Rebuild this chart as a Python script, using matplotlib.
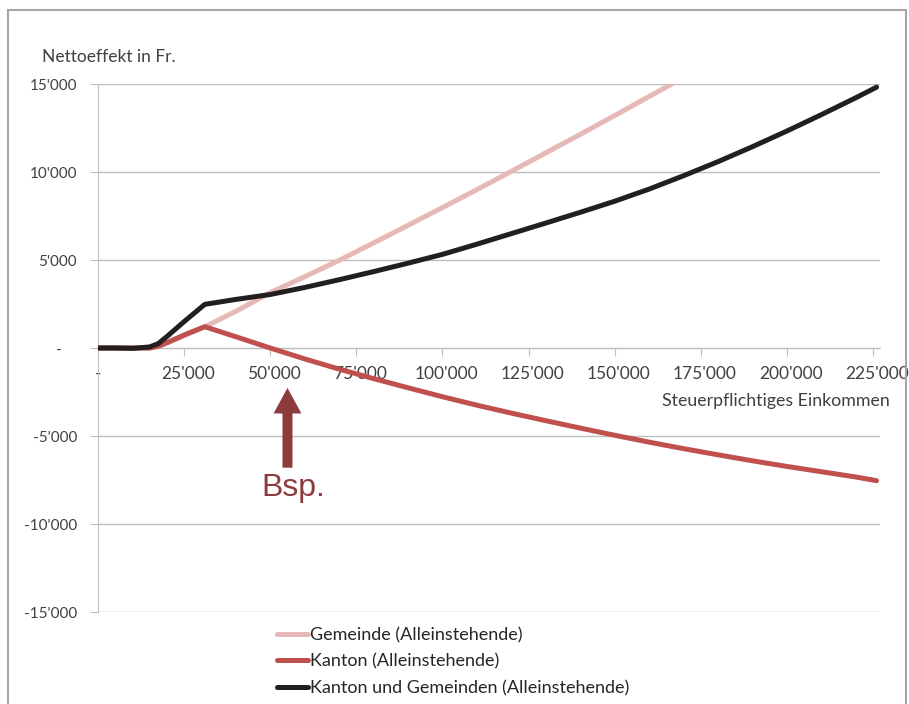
import matplotlib
matplotlib.use("Agg")
import matplotlib.pyplot as plt
from matplotlib.patches import Rectangle
from matplotlib.ticker import FuncFormatter, MultipleLocator
from matplotlib.transforms import ScaledTranslation

# Steuerpflichtiges Einkommen (Fr.) and Nettoeffekt (Fr.) per level
income = [0, 5000, 10000, 15000, 17500, 20000, 25000, 31000, 40000,
          50000, 60000, 70000, 80000, 90000, 100000, 110000, 120000,
          130000, 140000, 150000, 160000, 170000, 180000, 190000, 200000,
          210000, 220000, 226000]

gemeinde = [0, 0, 0, 0, 100, 280, 700, 1210, 2080,
            3150, 4050, 4980, 5970, 6970, 7980, 9000, 10040,
            11090, 12140, 13210, 14290, 15380, 16480, 17600, 18740,
            19900, 21080, 21800]

kanton = [0, 0, 0, 0, 100, 300, 740, 1210, 640,
          0, -620, -1200, -1740, -2260, -2770, -3250, -3700,
          -4130, -4550, -4960, -5350, -5720, -6070, -6410, -6730,
          -7030, -7330, -7540]

total = [0, 0, -20, 60, 250, 650, 1500, 2480, 2760,
         3040, 3440, 3880, 4340, 4820, 5320, 5900, 6500,
         7100, 7710, 8340, 9030, 9790, 10590, 11440, 12330,
         13260, 14220, 14820]

labels = ["Gemeinde (Alleinstehende)",
          "Kanton (Alleinstehende)",
          "Kanton und Gemeinden (Alleinstehende)"]
colors = ["#E6B9B8", "#C0504D", "#231F20"]

example_income = 55000
arrow_tip, arrow_base = -2270, -6800

FONT = "Lato"
TEXT = "#404040"
GRID = "#BFBFBF"


def swiss_x(v, _pos=None):
    if v == 0:
        return "-"
    return f"{int(v):,}".replace(",", "'")


def swiss_y(v, _pos=None):
    if v == 0:
        return "-    "
    return f"{int(v):,}".replace(",", "'")


fig = plt.figure(figsize=(9.09, 7.04), dpi=100)
ax = fig.add_axes([98 / 909, 92 / 704, 782 / 909, 528 / 704])

for ys, lab, col in zip([gemeinde, kanton, total], labels, colors):
    ax.plot(income, ys, color=col, lw=3.6, label=lab,
            solid_capstyle="round", solid_joinstyle="round", zorder=3)

ax.set_xlim(0, 227000)
ax.set_ylim(-15000, 15000)

ax.yaxis.set_major_locator(MultipleLocator(5000))
ax.set_xticks(range(0, 225001, 25000))
ax.yaxis.set_major_formatter(FuncFormatter(swiss_y))
ax.xaxis.set_major_formatter(FuncFormatter(swiss_x))

ax.grid(axis="y", color=GRID, lw=1.0, zorder=0)
for s in ("top", "right"):
    ax.spines[s].set_visible(False)
ax.spines["left"].set_color(GRID)
ax.spines["bottom"].set_color(GRID)
ax.spines["bottom"].set_position(("data", 0))

ax.tick_params(axis="y", direction="out", length=6, color=GRID, pad=9,
               labelsize=11, labelcolor=TEXT)
ax.tick_params(axis="x", direction="out", length=6, color=GRID, pad=7,
               labelsize=12.5, labelcolor=TEXT)
shift = ScaledTranslation(4 / 100, 0, fig.dpi_scale_trans)
for i, t in enumerate(ax.get_xticklabels()):
    t.set_fontfamily(FONT)
    if i > 0:
        t.set_transform(t.get_transform() + shift)
for t in ax.get_yticklabels():
    t.set_fontfamily(FONT)

# example marker
span = arrow_base - arrow_tip
ax.arrow(example_income, arrow_base, 0, -span, width=2900, head_width=8100,
         head_length=1450, length_includes_head=True, color="#8E3B3E",
         lw=0, zorder=4)
ax.text(example_income + 1800, -7950, "Bsp.", ha="center", va="center",
        fontsize=23, color="#8E3B3E", family="Liberation Sans")

fig.text(42 / 909, 1 - 57 / 704, "Nettoeffekt in Fr.", ha="left",
         va="center", fontsize=12.5, color=TEXT, family=FONT)
fig.text(890 / 909, 1 - 401 / 704, "Steuerpflichtiges Einkommen",
         ha="right", va="center", fontsize=12.8, color=TEXT, family=FONT)

ax.legend(loc="upper left", bbox_to_anchor=(277 / 909, 1 - 627 / 704),
          bbox_transform=fig.transFigure, frameon=False, handlelength=1.7,
          handletextpad=0.1, labelspacing=0.58, borderpad=0,
          borderaxespad=0, prop={"family": FONT, "size": 13},
          labelcolor="#262626")

fig.add_artist(Rectangle((8 / 909, -0.1), (906 - 8) / 909,
                         (704 - 10) / 704 + 0.1, transform=fig.transFigure,
                         fill=False, edgecolor="#A6A6A6", lw=1.5))

fig.savefig("out.png", dpi=100)
